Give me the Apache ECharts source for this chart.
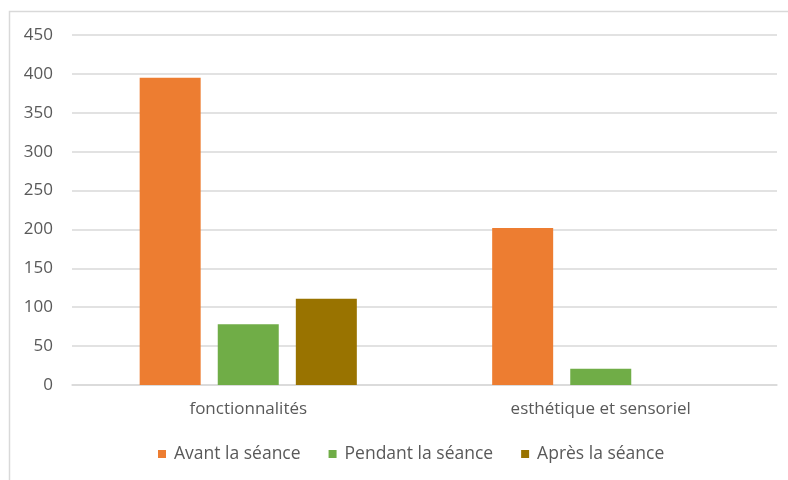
<!DOCTYPE html>
<html>
<head>
<meta charset="utf-8">
<script src="https://cdn.jsdelivr.net/npm/echarts@6/dist/echarts.min.js"></script>
<style>
  html, body { margin: 0; padding: 0; background: #fff; }
  #chart { width: 788px; height: 480px; }
</style>
</head>
<body>
<div id="chart"></div>
<script>
// Categories and values per session phase
const categories = ['fonctionnalités', 'esthétique et sensoriel'];
const avant = [395, 202];
const pendant = [78, 21];
const apres = [111, 0];
const seriesNames = ['Avant la séance', 'Pendant la séance', 'Après la séance'];
const yTicks = { min: 0, max: 450, interval: 50 };

const colors = ['#ED7D31', '#70AD47', '#997300'];
const font = '"Open Sans", "Liberation Sans", sans-serif';

const chart = echarts.init(document.getElementById('chart'), null, { renderer: 'canvas' });

const makeSeries = (name, data, color) => ({
  name: name,
  type: 'bar',
  data: data,
  barWidth: 61,
  barGap: '28%',
  itemStyle: { color: color },
  emphasis: { disabled: true }
});

chart.setOption({
  animation: false,
  backgroundColor: '#fff',
  graphic: [{
    type: 'rect',
    shape: { x: 9.5, y: 11.5, width: 800, height: 500 },
    style: { fill: 'none', stroke: '#d9d9d9', lineWidth: 1.5 },
    silent: true
  }],
  grid: { left: 72, right: 11, top: 35, bottom: 95, containLabel: false },
  legend: {
    bottom: 12,
    left: 153,
    itemWidth: 8,
    itemHeight: 8,
    itemGap: 28,
    icon: 'rect',
    textStyle: { color: '#595959', fontSize: 17.5, fontFamily: font, padding: [0, 0, 0, 3] },
    data: seriesNames
  },
  xAxis: {
    type: 'category',
    data: categories,
    axisLine: { show: true, lineStyle: { color: '#d9d9d9', width: 1.5 } },
    axisTick: { show: false },
    axisLabel: { color: '#595959', fontSize: 17, fontFamily: font, margin: 16 }
  },
  yAxis: {
    type: 'value',
    min: yTicks.min,
    max: yTicks.max,
    interval: yTicks.interval,
    axisLine: { show: false },
    axisTick: { show: false },
    splitLine: { lineStyle: { color: '#d9d9d9', width: 1.5 } },
    axisLabel: { color: '#595959', fontSize: 17, fontFamily: font, margin: 19 }
  },
  series: [
    makeSeries(seriesNames[0], avant, colors[0]),
    makeSeries(seriesNames[1], pendant, colors[1]),
    makeSeries(seriesNames[2], apres, colors[2])
  ]
});
</script>
</body>
</html>
